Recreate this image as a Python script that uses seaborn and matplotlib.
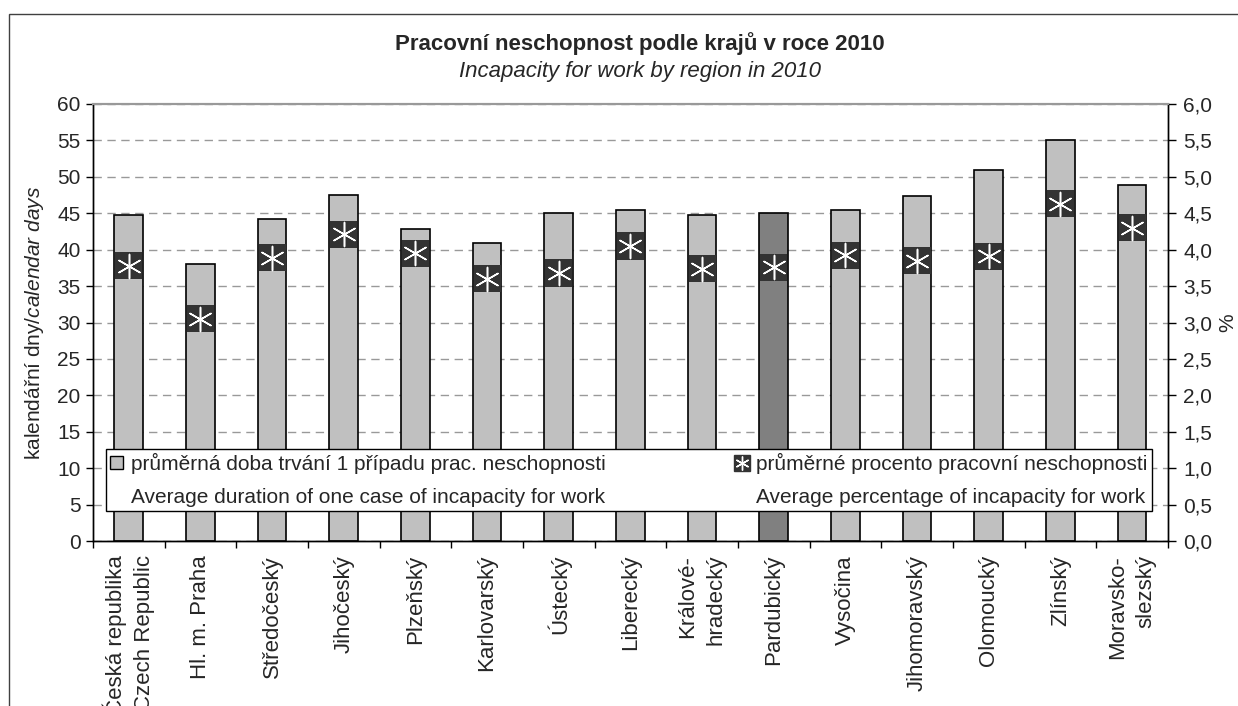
import matplotlib
matplotlib.use("Agg")
import matplotlib.pyplot as plt
import numpy as np
import pandas as pd
import seaborn as sns
from matplotlib.patches import Patch, Rectangle
from matplotlib.lines import Line2D
from matplotlib.ticker import MultipleLocator, FuncFormatter

# Data
regions = ["Česká republika\nCzech Republic", "Hl. m. Praha", "Středočeský", "Jihočeský",
           "Plzeňský", "Karlovarský", "Ústecký", "Liberecký", "Králové-\nhradecký",
           "Pardubický", "Vysočina", "Jihomoravský", "Olomoucký", "Zlínský",
           "Moravsko-\nslezský"]
days = [44.7, 38.0, 44.2, 47.5, 42.8, 40.9, 45.0, 45.4, 44.8, 45.0, 45.4, 47.3, 50.9, 55.0, 48.9]
pct = [3.78, 3.05, 3.89, 4.21, 3.95, 3.60, 3.68, 4.05, 3.74, 3.76, 3.92, 3.85, 3.91, 4.63, 4.30]
highlight = "Pardubický"

title_cz = "Pracovní neschopnost podle krajů v roce 2010"
title_en = "Incapacity for work by region in 2010"
leg_days_cz = "průměrná doba trvání 1 případu prac. neschopnosti"
leg_days_en = "Average duration of one case of incapacity for work"
leg_pct_cz = "průměrné procento pracovní neschopnosti"
leg_pct_en = "Average percentage of incapacity for work"

df = pd.DataFrame({"region": regions, "days": days, "pct": pct})

sns.set_style("white")
plt.rcParams["font.family"] = ["Liberation Sans", "DejaVu Sans"]
plt.rcParams["mathtext.fontset"] = "custom"
plt.rcParams["mathtext.rm"] = "Liberation Sans"
plt.rcParams["mathtext.it"] = "Liberation Sans:italic"

FS = 15
fig = plt.figure(figsize=(12.38, 7.06), dpi=100)
ax = fig.add_axes([0.0751, 0.2337, 0.8683, 0.6190])

bar_colors = ["#808080" if r == highlight else "#c0c0c0" for r in regions]
sns.barplot(data=df, x="region", y="days", hue="region", palette=bar_colors,
            legend=False, width=0.4, edgecolor="black", linewidth=1.2,
            saturation=1, errorbar=None, ax=ax)

ax2 = ax.twinx()
xpos = np.arange(len(regions))
sns.scatterplot(x=xpos, y=df["pct"], marker="s", s=380, color="#333333",
                edgecolor="none", ax=ax2, zorder=3)
sns.scatterplot(x=xpos, y=df["pct"], marker=(6, 2, 0), s=300, color="white",
                linewidth=1.1, ax=ax2, zorder=4)

# axes ranges and ticks
ax.set_xlim(-0.5, len(regions) - 0.5)
ax.set_ylim(0, 60)
ax2.set_ylim(0, 6)
ax.yaxis.set_major_locator(MultipleLocator(5))
ax2.yaxis.set_major_locator(MultipleLocator(0.5))
ax2.yaxis.set_major_formatter(FuncFormatter(lambda v, p: f"{v:.1f}".replace(".", ",")))

ax.set_xticks(xpos, labels=regions, rotation=90, ha="center", va="top",
              multialignment="right", fontsize=16, linespacing=1.45)
ax.set_xticks(np.arange(-0.5, len(regions), 1), minor=True)
ax.tick_params(axis="x", which="major", length=0, pad=10)
ax.tick_params(axis="x", which="minor", bottom=True, length=5, width=1, color="black")
ax.tick_params(axis="y", left=True, length=5, width=1, color="black", pad=4, labelsize=FS)
ax2.tick_params(axis="y", right=True, length=6, width=1, color="black", pad=5, labelsize=FS)

ax.yaxis.grid(True, linestyle=(0, (6, 4)), color="#999999", linewidth=1)
ax.set_axisbelow(True)

for a in (ax, ax2):
    for side in ("left", "right", "bottom"):
        a.spines[side].set_color("black")
        a.spines[side].set_linewidth(1)
    a.spines["top"].set_color("#999999")
    a.spines["top"].set_linewidth(1.5)

ax.set_xlabel("")
ax.set_ylabel(r"kalendářní dny/$\mathit{calendar\ days}$", fontsize=FS, labelpad=8)
ax2.set_ylabel("%", fontsize=FS, labelpad=4)

# legend: Czech line with symbol, English line below it
h_bar = Patch(facecolor="#c0c0c0", edgecolor="black", linewidth=1)
h_blank = Patch(facecolor="none", edgecolor="none")
h_pct = (Line2D([], [], marker="s", ls="none", color="#333333", markersize=12),
         Line2D([], [], marker=(6, 2, 0), ls="none", color="white", markersize=10, markeredgewidth=1))
leg = ax2.legend([h_bar, h_blank, h_pct, h_blank],
                 [leg_days_cz, leg_days_en, leg_pct_cz, leg_pct_en],
                 ncol=2, loc="lower left", mode="expand",
                 bbox_to_anchor=(0.012, 0.069, 0.973, 0.135),
                 fontsize=15, frameon=True, fancybox=False, framealpha=1,
                 edgecolor="black", handlelength=0.6, handleheight=0.6,
                 handletextpad=0.4, labelspacing=0.65, borderpad=0.2,
                 borderaxespad=0, columnspacing=1.0)
leg.get_frame().set_linewidth(1)
leg.set_zorder(10)

# titles
fig.text(0.517, 0.939, title_cz, ha="center", va="center", fontsize=16, fontweight="bold")
fig.text(0.517, 0.899, title_en, ha="center", va="center", fontsize=16, fontstyle="italic")

# outer chart frame (runs off the right and bottom edge)
fig.add_artist(Rectangle((9 / 1238, -0.1), 1.2, 1.1 - 14 / 706, transform=fig.transFigure,
                         fill=False, edgecolor="#404040", linewidth=1))

fig.savefig("out.png", dpi=100)
